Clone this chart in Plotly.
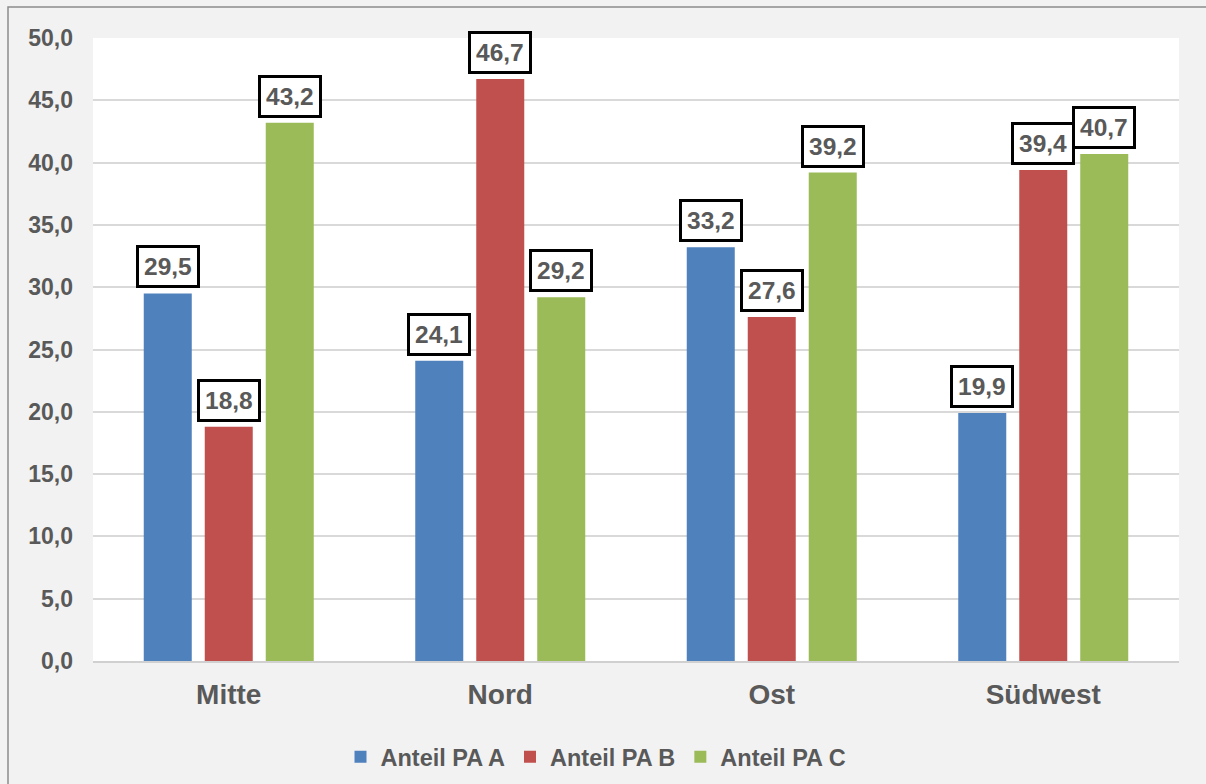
import plotly.graph_objects as go

categories = ["Mitte", "Nord", "Ost", "Südwest"]
anteil_a = [29.5, 24.1, 33.2, 19.9]
anteil_b = [18.8, 46.7, 27.6, 39.4]
anteil_c = [43.2, 29.2, 39.2, 40.7]
series_names = ["Anteil PA A", "Anteil PA B", "Anteil PA C"]
colors = ["#4f81bd", "#c0504d", "#9bbb59"]
y_ticks = [0, 5, 10, 15, 20, 25, 30, 35, 40, 45, 50]

W, H = 1206, 784
ml, mr, mt, mb = 93, 27, 38, 123

fig = go.Figure()
all_series = [anteil_a, anteil_b, anteil_c]
for name, vals, col in zip(series_names, all_series, colors):
    fig.add_trace(go.Bar(x=categories, y=vals, name=name, marker_color=col,
                         marker_line_width=0))

bargap = 0.326
slot = (1 - bargap) / 3
annotations = []
for j, vals in enumerate(all_series):
    for i, v in enumerate(vals):
        annotations.append(dict(
            x=i + (j - 1) * slot, y=v, xref="x", yref="y",
            text=f"{v:.1f}".replace(".", ","), showarrow=False,
            yanchor="bottom", yshift=5,
            font=dict(family="Liberation Sans, Arial", size=24.5, color="#595959"),
            bgcolor="white", bordercolor="black", borderwidth=3, borderpad=5,
        ))

pw = W - ml - mr
ph = H - mt - mb
shapes = [dict(type="rect", xref="paper", yref="paper",
               x0=(8 - ml) / pw, x1=(1215 - ml) / pw,
               y0=-(800 - H + mb) / ph, y1=1 + (mt - 7) / ph,
               line=dict(color="#8c8c8c", width=1.5), fillcolor="rgba(0,0,0,0)",
               layer="below")]

fig.update_layout(
    template="none",
    width=W, height=H,
    margin=dict(l=ml, r=mr, t=mt, b=mb, pad=0, autoexpand=False),
    paper_bgcolor="#f2f2f2", plot_bgcolor="white",
    separators=",.",
    barmode="group", bargap=bargap, bargroupgap=0.213,
    font=dict(family="Liberation Sans, Arial", color="#595959"),
    annotations=annotations, shapes=shapes,
    legend=dict(orientation="h", xref="container", yref="container",
                x=596 / W, xanchor="center", y=27 / H, yanchor="middle",
                font=dict(size=23.5, color="#595959", family="Liberation Sans, Arial"),
                itemwidth=30, traceorder="normal", bgcolor="rgba(0,0,0,0)"),
    xaxis=dict(tickfont=dict(size=28, color="#595959"), showgrid=False,
               showline=True, linecolor="#d0d0d0", linewidth=2, ticks="",
               ticklabelstandoff=7, automargin=False),
    yaxis=dict(range=[0, 50], tickvals=y_ticks, tickformat=".1f",
               tickfont=dict(size=23, color="#595959"),
               gridcolor="#d9d9d9", gridwidth=1.5, zeroline=False, ticks="",
               showline=False, ticklabelstandoff=19, automargin=False),
)
fig.for_each_xaxis(lambda a: a.update(tickfont_weight="bold"))
fig.for_each_yaxis(lambda a: a.update(tickfont_weight="bold"))
fig.update_layout(legend_font_weight="bold")
for a in fig.layout.annotations:
    a.font.weight = "bold"

fig.write_html("out.html", config={"displayModeBar": False},
               post_script="document.body.style.margin='0';document.body.style.padding='0';document.body.style.overflow='hidden';")
